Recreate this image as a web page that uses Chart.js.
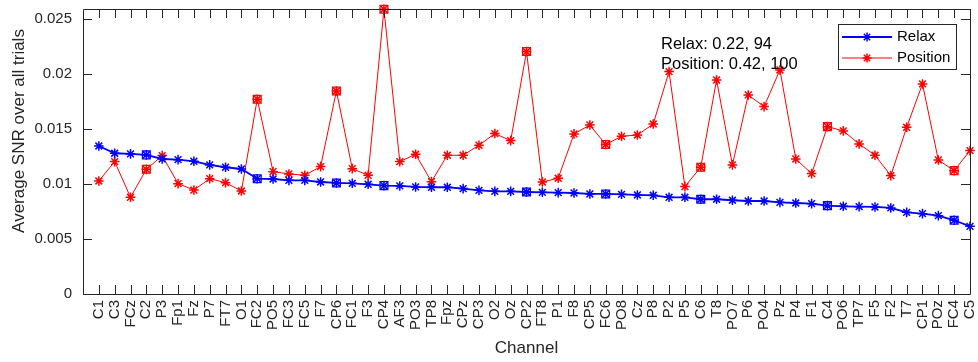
<!DOCTYPE html>
<html>
<head>
<meta charset="utf-8">
<script src="https://cdn.jsdelivr.net/npm/chart.js@4.4.0/dist/chart.umd.min.js"></script>
<style>
    html, body { margin: 0; padding: 0; background: #fff; }
    #wrap { width: 978px; height: 362px; }
</style>
</head>
<body>
<div id="wrap"><canvas id="snrChart" width="978" height="362"></canvas></div>
<script>
// channel order along the x axis
const channels = ['C1', 'C3', 'FCz', 'C2', 'P3', 'Fp1', 'Fz', 'P7', 'FT7', 'O1',
    'FC2', 'PO5', 'FC3', 'FC5', 'F7', 'CP6', 'FC1', 'F3', 'CP4', 'AF3',
    'PO3', 'TP8', 'Fpz', 'CPz', 'CP3', 'O2', 'Oz', 'CP2', 'FT8', 'P1',
    'F8', 'CP5', 'FC6', 'PO8', 'Cz', 'P8', 'P2', 'P5', 'C6', 'T8',
    'PO7', 'P6', 'PO4', 'Pz', 'P4', 'F1', 'C4', 'PO6', 'TP7', 'F5',
    'F2', 'T7', 'CP1', 'POz', 'FC4', 'C5'];

const relaxSNR = [0.01345, 0.01279, 0.01273, 0.01264, 0.01227, 0.01221, 0.01206, 0.01173, 0.01152, 0.01136,
    0.01048, 0.01045, 0.01033, 0.01033, 0.01018, 0.01009, 0.01006, 0.00997, 0.00985, 0.00982,
    0.00973, 0.00970, 0.00970, 0.00958, 0.00942, 0.00933, 0.00933, 0.00927, 0.00924, 0.00921,
    0.00918, 0.00909, 0.00909, 0.00906, 0.00900, 0.00897, 0.00879, 0.00879, 0.00861, 0.00861,
    0.00852, 0.00845, 0.00845, 0.00833, 0.00827, 0.00821, 0.00803, 0.00797, 0.00794, 0.00791,
    0.00782, 0.00742, 0.00730, 0.00712, 0.00670, 0.00615];

const positionSNR = [0.01027, 0.01203, 0.00879, 0.01133, 0.01258, 0.01003, 0.00945, 0.01048, 0.01012, 0.00936,
    0.01770, 0.01112, 0.01091, 0.01079, 0.01158, 0.01845, 0.01139, 0.01079, 0.02588, 0.01203,
    0.01270, 0.01021, 0.01261, 0.01261, 0.01352, 0.01458, 0.01394, 0.02203, 0.01018, 0.01052,
    0.01455, 0.01536, 0.01358, 0.01433, 0.01445, 0.01545, 0.02021, 0.00976, 0.01152, 0.01945,
    0.01173, 0.01809, 0.01703, 0.02036, 0.01227, 0.01094, 0.01521, 0.01482, 0.01364, 0.01261,
    0.01076, 0.01515, 0.01909, 0.01218, 0.01121, 0.01303];

// channels drawn with an extra square marker
const markedChannels = ['C2', 'FC2', 'CP6', 'CP4', 'CP2', 'FC6', 'C6', 'C4', 'FC4'];

const yTicks = [0, 0.005, 0.01, 0.015, 0.02, 0.025];
const yTickLabels = ['0', '0.005', '0.01', '0.015', '0.02', '0.025'];
const annotationLines = ['Relax: 0.22, 94', 'Position: 0.42, 100'];

const FONT = "'Liberation Sans', Arial, Helvetica, sans-serif";
const AXIS_COLOR = '#262626';

function toPoints(values) {
    return values.map((v, i) => ({ x: i + 1, y: v }));
}

function markedPoints(values) {
    return channels
        .map((c, i) => markedChannels.includes(c) ? { x: i + 1, y: values[i] } : null)
        .filter(p => p !== null);
}

// box, inward ticks, legend, labels
const matlabAxes = {
    id: 'matlabAxes',
    afterDraw(chart) {
        const ctx = chart.ctx;
        const { left, right, top, bottom } = chart.chartArea;
        const xs = chart.scales.x;
        const ys = chart.scales.y;
        const tick = 9;

        ctx.save();
        ctx.strokeStyle = AXIS_COLOR;
        ctx.lineWidth = 1;
        ctx.beginPath();
        ctx.rect(Math.round(left) + 0.5, Math.round(top) + 0.5,
            Math.round(right - left), Math.round(bottom - top));
        channels.forEach((c, i) => {
            const px = Math.round(xs.getPixelForValue(i + 1)) + 0.5;
            ctx.moveTo(px, bottom);
            ctx.lineTo(px, bottom - tick);
            ctx.moveTo(px, top);
            ctx.lineTo(px, top + tick);
        });
        yTicks.forEach(v => {
            const py = Math.round(ys.getPixelForValue(v)) + 0.5;
            ctx.moveTo(left, py);
            ctx.lineTo(left + tick, py);
            ctx.moveTo(right, py);
            ctx.lineTo(right - tick, py);
        });
        ctx.stroke();

        // annotation text
        ctx.fillStyle = '#000';
        ctx.font = '16.5px ' + FONT;
        ctx.textAlign = 'left';
        ctx.textBaseline = 'middle';
        ctx.fillText(annotationLines[0], 661, 44);
        ctx.fillText(annotationLines[1], 661, 64);

        // legend
        const lx = 838, ly = 24, lw = 118, lh = 45;
        ctx.fillStyle = '#fff';
        ctx.fillRect(lx, ly, lw, lh);
        ctx.strokeStyle = AXIS_COLOR;
        ctx.strokeRect(lx + 0.5, ly + 0.5, lw, lh);
        const entries = chart.data.datasets.slice(0, 2);
        entries.forEach((ds, i) => {
            const y = 37 + i * 21;
            ctx.strokeStyle = ds.borderColor;
            ctx.fillStyle = ds.borderColor;
            ctx.lineWidth = ds.borderWidth;
            ctx.beginPath();
            ctx.moveTo(842, y);
            ctx.lineTo(892, y);
            ctx.stroke();
            ctx.lineWidth = ds.pointBorderWidth;
            Chart.helpers.drawPoint(ctx, { pointStyle: 'star', radius: 4.5, borderWidth: ds.pointBorderWidth, rotation: 0 }, 867, y);
            ctx.fillStyle = '#000';
            ctx.font = '15px ' + FONT;
            ctx.fillText(ds.label, 897, y);
        });

        // axis titles
        ctx.fillStyle = AXIS_COLOR;
        ctx.font = '17px ' + FONT;
        ctx.textAlign = 'center';
        ctx.fillText('Channel', (left + right) / 2, 348);
        ctx.translate(19, 131);
        ctx.rotate(-Math.PI / 2);
        ctx.fillText('Average SNR over all trials', 0, 0);
        ctx.restore();
    }
};

new Chart(document.getElementById('snrChart'), {
    type: 'line',
    data: {
        datasets: [{
            label: 'Relax',
            data: toPoints(relaxSNR),
            borderColor: '#0000ff',
            backgroundColor: '#0000ff',
            borderWidth: 1.8,
            pointStyle: 'star',
            pointRadius: 4.8,
            pointBorderWidth: 1.5,
            pointBorderColor: '#0000ff',
            tension: 0,
            clip: false
        }, {
            label: 'Position',
            data: toPoints(positionSNR),
            borderColor: '#ff0000',
            backgroundColor: '#ff0000',
            borderWidth: 1,
            pointStyle: 'star',
            pointRadius: 4.8,
            pointBorderWidth: 1.5,
            pointBorderColor: '#ff0000',
            tension: 0,
            clip: false
        }, {
            label: 'Relax marked',
            data: markedPoints(relaxSNR),
            showLine: false,
            pointStyle: 'rect',
            pointRadius: 5.5,
            pointBorderWidth: 1.3,
            pointBorderColor: '#0000ff',
            pointBackgroundColor: 'rgba(0,0,0,0)',
            clip: false
        }, {
            label: 'Position marked',
            data: markedPoints(positionSNR),
            showLine: false,
            pointStyle: 'rect',
            pointRadius: 5.5,
            pointBorderWidth: 1.3,
            pointBorderColor: '#ff0000',
            pointBackgroundColor: 'rgba(0,0,0,0)',
            clip: false
        }]
    },
    options: {
        responsive: false,
        animation: false,
        devicePixelRatio: 1,
        events: [],
        layout: { padding: { left: 0, right: 8, top: 9, bottom: 0 } },
        plugins: {
            legend: { display: false },
            tooltip: { enabled: false }
        },
        scales: {
            x: {
                type: 'linear',
                min: 0,
                max: channels.length,
                afterBuildTicks: s => { s.ticks = channels.map((c, i) => ({ value: i + 1 })); },
                afterFit: s => {
                    s.height = 68;
                    s.paddingLeft = 0;
                    s.paddingRight = 0;
                },
                grid: { display: false, drawTicks: false },
                border: { display: false },
                ticks: {
                    autoSkip: false,
                    minRotation: 90,
                    maxRotation: 90,
                    padding: 6,
                    color: AXIS_COLOR,
                    font: { size: 15, family: FONT },
                    callback: v => channels[v - 1]
                }
            },
            y: {
                min: 0,
                max: 0.0259,
                afterBuildTicks: s => { s.ticks = yTicks.map(v => ({ value: v })); },
                afterFit: s => {
                    s.width = 83;
                    s.paddingTop = 0;
                    s.paddingBottom = 0;
                },
                grid: { display: false, drawTicks: false },
                border: { display: false },
                ticks: {
                    padding: 11,
                    color: AXIS_COLOR,
                    font: { size: 15, family: FONT },
                    callback: (v, i) => yTickLabels[i]
                }
            }
        }
    },
    plugins: [matlabAxes]
});
</script>
</body>
</html>
